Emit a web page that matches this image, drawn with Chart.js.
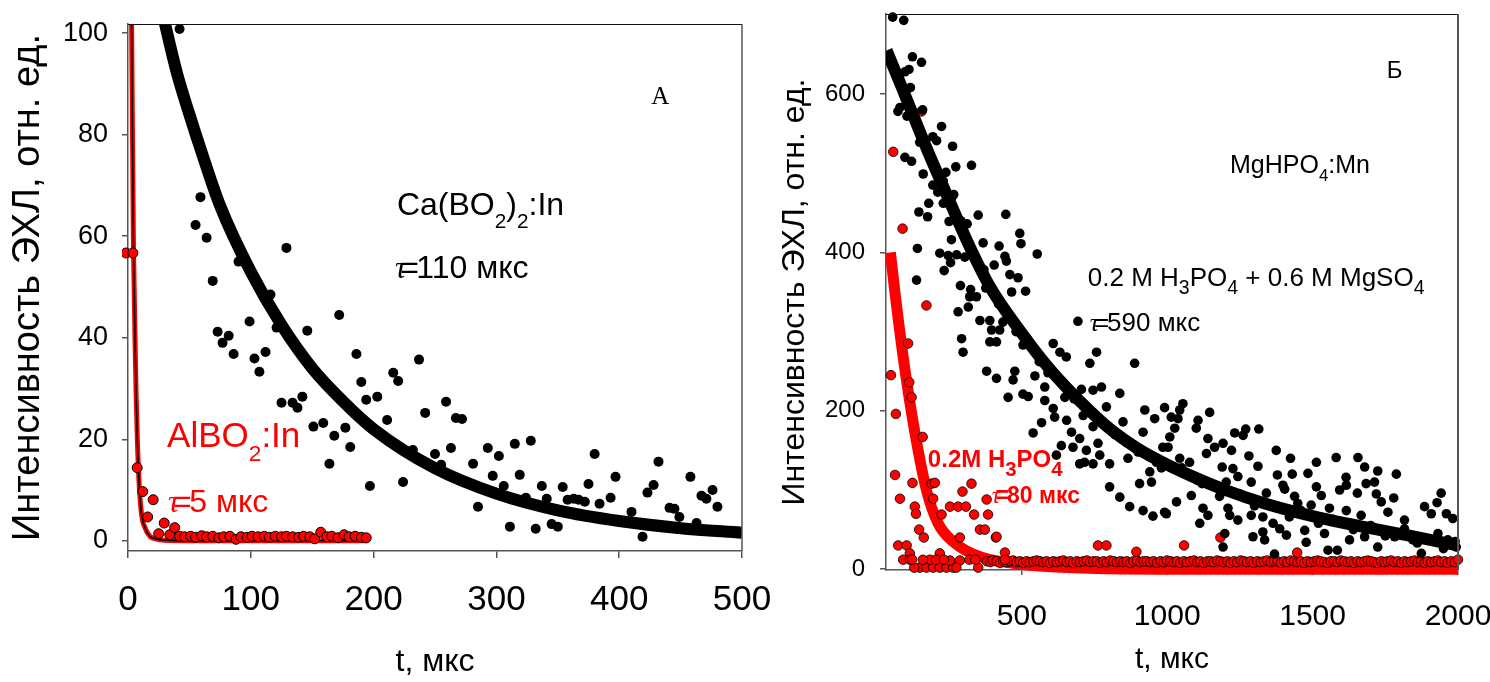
<!DOCTYPE html>
<html>
<head>
<meta charset="utf-8">
<script src="https://cdn.jsdelivr.net/npm/chart.js@4.4.1/dist/chart.umd.min.js"></script>
<style>
html,body{margin:0;padding:0;background:#fff;overflow:hidden;}
#wrapA{position:absolute;left:0;top:0;width:770px;height:682px;}
#wrapB{position:absolute;left:770px;top:0;width:740px;height:682px;}
</style>
</head>
<body>
<div id="wrapA"><canvas id="chartA" width="770" height="682"></canvas></div>
<div id="wrapB"><canvas id="chartB" width="740" height="682"></canvas></div>
<script>
// ---- panel A : Ca(BO2)2:In and AlBO2:In ----
var xTicksA=[0,100,200,300,400,500];
var yTicksA=[0,20,40,60,80,100];

var tBlackA=[42,59,55,64,69,90,99,116,129,172,146,73,82,121,77,86,103,107,112,125,
 134,138,142,151,159,168,177,164,181,186,190,194,197,237,216,220,203,259,242,211,
 267,272,224,232,250,255,263,281,285,293,302,297,306,311,315,319,328,324,332,337,
 341,345,350,354,358,363,367,372,375,380,384,393,397,410,419,423,428,432,441,445,
 449,458,463,467,471,476,480];
var vBlackA=[100.8,67.7,62.2,59.7,51.2,55,43.2,48.5,57.7,44.5,41.4,41.2,40.4,42,39,36.8,35.9,33.3,37.2,27.2,
 27.2,26.2,28.4,22.5,23.2,20.7,22.3,15.2,18.5,36.8,31.3,27.8,10.8,35.7,33.1,31.5,28.4,27.4,25.2,23.8,
 24.2,24,11.6,17.9,17.1,15,18.3,15.2,6.7,18.3,16.7,12.8,10.8,2.8,19.1,13,19.7,8.5,2.4,10.8,
 8.3,3.3,2.8,10.6,8.1,8.3,8.1,7.7,11.2,17.1,7.3,8.5,12.6,5.7,0.8,9.5,11,15.6,6.5,6.3,
 4.7,12.6,3.5,8.9,8.3,10,6.7];

var tRedA=[-1.6,4,7.5,12,16,20.5,25,29.5,34,38,42,46,51,55,60,64,69,74,78,83,
 88,92,97,101,106,111,115,120,125,129,134,139,143,148,152,157,162,166,171,176,
 180,185,190,194];
var vRedA=[56.7,56.7,14.4,9.7,4.7,8.1,1.4,3.5,1.2,2.6,0.9,0.8,0.9,0.7,1.0,0.8,0.9,0.6,0.8,0.9,
 0.3,0.8,0.7,0.9,0.8,0.9,0.7,0.9,0.8,0.9,0.8,0.7,0.9,0.8,0.4,1.7,0.8,0.9,0.6,1.2,
 0.8,0.9,0.7,0.6];

// fitted decay curves
var tFitBlackA=[28,40,50,60,75,100,125,150,175,200,250,300,350,400,450,500];
var vFitBlackA=[104,92,84,76.5,66,53,42.5,34,27.5,22,14.3,9.3,6,3.9,2.5,1.6];
var tFitRedA=[2,3,4,4.5,5,5.7,6.5,7.6,9,11,14,18,22,26,35,60,100,150,195];
var vFitRedA=[130,100,70,57,50,40,30,20,11.5,5.3,2.5,0.85,0.45,0.2,0.05,0,0,0,0];

// ---- panel B : MgHPO4:Mn ----
var xTicksB=[500,1000,1500,2000];
var yTicksB=[0,200,400,600];

var tBlackB=[56,94,124,155,112,98,117,81,74,105,159,224,194,207,262,149,98,121,273,327,
 161,239,194,211,266,180,146,176,230,350,445,250,312,493,258,367,422,497,141,218,
 247,276,304,442,553,447,255,405,233,459,487,138,289,324,376,465,513,344,
 321,281,316,356,390,435,693,396,424,293,390,413,504,608,298,631,653,757,888,734,
 379,476,413,470,545,579,504,453,522,579,608,648,705,745,774,837,791,568,613,654,
 711,745,848,923,957,991,917,539,671,699,636,676,722,762,985,619,716,768,802,745,
 699,865,963,802,837,871,917,905,946,951,991,940,
 1054,1043,1014,1037,1026,1009,1003,1146,1106,1100,1140,1232,1270,1315,1261,1163,1192,1221,1135,1043,
 1077,1281,1312,1189,1226,1375,1424,1513,1581,1656,1679,1724,1788,1379,1430,1484,1243,1106,1203,1289,
 1398,1615,1684,1713,1513,1616,1083,1032,997,1341,1404,1438,1530,1593,1654,1719,1779,1942,1928,1885,
 1960,1982,1908,1816,1759,1736,1667,1558,1616,1495,1449,1123,1140,1112,1209,1243,1215,1289,1329,1364,
 1387,1473,1541,1198,1192,1295,1329,1335,1410,1478,1553,1585,1369,1627,1679,1724,1782,1816,1845,1874,
 1931,1965,1994,1736,
 1050,1120,1180,1250,1300,1350,1420,1460,1520,1570,1640,1700,1750,1800,1860,1900,1950,1990,
 200,230,260,290,340,370,420,450,480,520,560,590,640,680,720,760,820,860,900,940,980];
var vBlackB=[697,693,647,640,631,628,608,583,578,572,580,559,546,541,534,539,520,515,508,510,
 499,501,485,476,473,462,451,445,462,447,448,439,436,424,416,412,408,411,405,399,
 396,397,394,395,398,389,387,384,377,372,368,365,358,353,355,350,351,344,
 344,325,331,314,314,312,313,302,302,291,287,287,283,285,274,274,268,274,260,260,
 250,250,241,239,244,230,221,217,218,213,203,217,227,226,230,222,205,185,192,188,
 194,180,186,201,190,204,173,172,173,165,156,154,150,159,154,144,135,144,133,133,
 133,140,135,104,91,79,74,108,110,67,72,123,
 209,201,192,190,178,167,154,198,188,178,165,172,177,177,169,154,159,150,146,140,
 135,143,130,129,127,150,140,135,141,141,129,124,120,119,120,121,117,112,110,110,
 106,116,108,110,104,106,93,85,70,96,101,92,93,100,96,95,90,96,84,79,
 70,64,70,62,72,85,68,77,74,81,83,77,68,58,77,62,68,68,66,58,
 51,49,45,45,28,41,47,37,43,34,24,24,19,37,41,28,41,51,37,20,
 45,37,28,49,
 128,108,92,95,80,82,66,74,58,63,50,55,42,44,33,38,26,35,
 505,490,470,440,395,378,335,318,300,290,262,248,235,215,205,190,170,160,148,142,128];

var tRedB=[58,90,155,172,109,50,113,67,121,159,64,124,81,190,201,195,132,136,224,253,
 281,308,296,327,336,379,384,356,373,411,147,163,287,75,104,115,442,762,791,894,
 92,149,172,195,218,241,264,184,218,253,287,350,442,413,1058,1183,1447,130,160,205,
 232,275,320,340,115,123];
var vRedB=[527,430,578,333,285,245,236,196,217,167,119,109,89,108,109,89,79,70,69,79,
 79,79,98,108,69,88,69,50,50,40,50,40,40,30,30,20,21,30,30,22,
 12,2,2,2,2,2,2,12,20,11,11,2,12,41,30,40,21,2,12,12,
 12,2,12,12,12,12];

// dense row of red points lying on the baseline
var tBandB=[380,392,401,413,425,436,447,459,470,482,493,505,516,528,540,551,562,574,585,597,
 608,620,631,643,655,666,677,689,700,712,724,735,746,758,770,781,792,804,815,827,
 839,850,861,873,884,896,908,919,930,942,953,965,977,988,999,1011,1023,1034,1045,1057,
 1068,1080,1092,1103,1114,1126,1138,1149,1160,1172,1183,1195,1207,1218,1229,1241,1253,1264,1275,1287,
 1298,1310,1322,1333,1344,1356,1367,1379,1391,1402,1413,1425,1437,1448,1459,1471,1482,1494,1506,1517,
 1528,1540,1552,1563,1574,1586,1597,1609,1621,1632,1643,1655,1666,1678,1690,1701,1712,1724,1736,1747,
 1758,1770,1781,1793,1805,1816,1827,1839,1851,1862,1873,1885,1896,1908,1920,1931,1942,1954,1965,1977,
 1989,2000];
var vBandB=[10,9,11,10,8,10,9,10,11,9,10,8,10,9,10,11,10,9,10,8,
 10,9,10,11,9,10,8,10,9,10,11,9,10,10,8,10,9,11,10,9,
 10,9,10,8,10,11,9,10,10,9,10,8,10,9,11,10,9,10,8,10,
 9,10,11,9,10,8,10,10,9,11,10,9,10,8,10,9,11,10,9,10,
 8,10,9,10,11,9,10,10,8,10,9,11,10,9,10,8,10,9,10,11,
 10,9,8,10,10,9,11,10,9,10,8,10,9,10,11,10,9,8,10,9,
 10,11,9,10,8,10,9,10,11,9,10,8,10,9,10,11,9,10,8,10,
 9,12];

var tFitBlackB=[35,52,100,180,250,316,390,500,600,700,800,900,1000,1100,1200,1336,1500,1680,1850,2000];
var vFitBlackB=[655,640,597,525,466,411,357,298,251,212,178,152,132,115,100,83,67,53,41,30];
var tFitRedB=[48,63,92,127,172,212,270,356,470,600,800,1000,1500,2000];
var vFitRedB=[400,352,268,184,100,58,33,15.8,7.5,3,0.5,0,0,0];

Chart.defaults.font.family='"Liberation Sans", Arial, sans-serif';
Chart.defaults.color='#000';

function pts(xs,ys){ return xs.map(function(x,i){ return {x:x,y:ys[i]}; }); }

// text labels inside the plots
var notesA=[
 {t:426,v:86,size:25,parts:[{s:'А',serif:true}]},
 {t:219,v:64.2,size:32,parts:[{s:'Ca(BO'},{s:'2',sub:true},{s:')'},{s:'2',sub:true},{s:':In'}]},
 {t:217.5,v:51.8,size:32,parts:[{s:'τ',tau:true},{s:'=',dx:-0.2},{s:'110 мкс',dx:-0.08}]},
 {t:31.8,v:18.5,size:35,color:'#ff0000',parts:[{s:'AlBO'},{s:'2',sub:true},{s:':In'}]},
 {t:32.6,v:5.7,size:32,color:'#ff0000',parts:[{s:'τ',tau:true},{s:'=',dx:-0.2},{s:'5 мкс',dx:-0.08}]}
];
var notesB=[
 {t:1755,v:620,size:24,parts:[{s:'Б'}]},
 {t:1216,v:500,size:25,subScale:0.67,subShift:0.3,parts:[{s:'MgHPO'},{s:'4',sub:true},{s:':Mn'}]},
 {t:727,v:357.6,size:26,subScale:0.75,subShift:0.3,parts:[{s:'0.2 M H'},{s:'3',sub:true},{s:'PO'},{s:'4',sub:true},{s:' + 0.6 M MgSO'},{s:'4',sub:true}]},
 {t:734,v:300.8,size:26,parts:[{s:'τ',tau:true},{s:'=',dx:-0.2},{s:'590 мкс',dx:-0.08}]},
 {t:177,v:129,size:24,bold:true,color:'#ff0000',subScale:0.85,subShift:0.36,parts:[{s:'0.2M H'},{s:'3',sub:true},{s:'PO'},{s:'4',sub:true}]},
 {t:397,v:83.6,size:23,bold:true,color:'#ff0000',parts:[{s:'τ',tau:true},{s:'=',dx:-0.2},{s:'80 мкс',dx:-0.08}]}
];

function drawNote(ctx,x,y,n){
  var cx=x;
  ctx.fillStyle=n.color||'#000';
  ctx.textBaseline='alphabetic';
  ctx.textAlign='left';
  n.parts.forEach(function(p){
    var size=p.sub ? n.size*(n.subScale||0.65) : n.size;
    var f=(n.bold?'bold ':'')+size+'px "Liberation Sans", Arial, sans-serif';
    if(p.tau) f='italic '+size+'px "Liberation Serif", serif';
    if(p.serif) f=size+'px "Liberation Serif", serif';
    ctx.font=f;
    cx+=(p.dx||0)*n.size;
    ctx.fillText(p.s,cx,y+(p.sub ? n.size*(n.subShift||0.4) : 0));
    cx+=ctx.measureText(p.s).width;
  });
}

function framePlugin(notes,rightW){
  return {
    id:'frame',
    afterDatasetsDraw:function(chart){
      var ctx=chart.ctx, a=chart.chartArea, xs=chart.scales.x, ys=chart.scales.y;
      ctx.save();
      ctx.strokeStyle='#111'; ctx.lineWidth=1.2;
      ctx.beginPath(); ctx.moveTo(a.left,a.top+0.5); ctx.lineTo(a.right,a.top+0.5); ctx.stroke();
      ctx.strokeStyle='#555'; ctx.lineWidth=rightW;
      ctx.beginPath(); ctx.moveTo(a.right,a.top); ctx.lineTo(a.right,a.bottom); ctx.stroke();
      notes.forEach(function(n){ drawNote(ctx,xs.getPixelForValue(n.t),ys.getPixelForValue(n.v),n); });
      ctx.restore();
    }
  };
}

function axis(o){
  return {
    type:'linear', min:o.min, max:o.max,
    afterBuildTicks:function(s){ s.ticks=o.ticks.map(function(v){ return {value:v}; }); },
    afterFit:function(s){
      if(o.w) s.width=o.w;
      if(o.h) s.height=o.h;
      // keep the plot box where layout.padding puts it
      s.paddingLeft=0; s.paddingRight=0; s.paddingTop=0; s.paddingBottom=0;
    },
    border:{display:true,color:'#555',width:1.5},
    grid:{drawOnChartArea:false,drawTicks:true,tickLength:o.tl,color:'#555',lineWidth:1.5},
    ticks:{font:{size:o.fs},color:'#000',padding:o.pad,maxRotation:0,autoSkip:false,
      callback:function(v){ return String(v); }},
    title:{display:true,text:o.title,color:'#000',font:{size:o.ts},padding:o.tpad}
  };
}

new Chart(document.getElementById('chartA'),{
  type:'scatter',
  data:{datasets:[
    {data:pts(tFitBlackA,vFitBlackA),showLine:true,borderColor:'#000',borderWidth:12,pointRadius:0,cubicInterpolationMode:'monotone',order:1},
    {data:pts(tBlackA,vBlackA),pointRadius:5,pointBackgroundColor:'#000',pointBorderWidth:0,clip:6,order:2},
    {data:pts(tRedA,vRedA),pointRadius:5,pointBackgroundColor:'#ff0000',pointBorderColor:'#000',pointBorderWidth:1,clip:6,order:3},
    {data:pts(tFitRedA,vFitRedA),showLine:true,borderColor:'#000',borderWidth:1.5,pointRadius:0,cubicInterpolationMode:'monotone',order:4},
    {data:pts(tFitRedA,vFitRedA),showLine:true,borderColor:'#ff0000',borderWidth:5,pointRadius:0,cubicInterpolationMode:'monotone',order:5}
  ]},
  options:{
    responsive:false,animation:false,events:[],devicePixelRatio:1,
    layout:{padding:{top:24,right:28,left:0,bottom:0}},
    plugins:{legend:{display:false},tooltip:{enabled:false}},
    scales:{
      x:axis({min:0,max:500,ticks:xTicksA,h:131,tl:7,fs:35,pad:21,title:'t, мкс',ts:32,tpad:{top:0,bottom:1}}),
      y:axis({min:-2,max:101.8,ticks:yTicksA,w:128,tl:6,fs:27,pad:14,title:'Интенсивность ЭХЛ, отн. ед.',ts:38,tpad:{top:6,bottom:0}})
    }
  },
  plugins:[framePlugin(notesA,1.5)]
});

new Chart(document.getElementById('chartB'),{
  type:'scatter',
  data:{datasets:[
    {data:pts(tFitBlackB,vFitBlackB),showLine:true,borderColor:'#000',borderWidth:12,pointRadius:0,cubicInterpolationMode:'monotone',order:1},
    {data:pts(tBlackB,vBlackB),pointRadius:4.8,pointBackgroundColor:'#000',pointBorderWidth:0,clip:6,order:2},
    {data:pts(tRedB,vRedB),pointRadius:4.8,pointBackgroundColor:'#ff0000',pointBorderColor:'#000',pointBorderWidth:0.8,clip:6,order:3},
    {data:pts(tBandB,vBandB),pointRadius:4.8,pointBackgroundColor:'#ff0000',pointBorderColor:'#000',pointBorderWidth:0.8,clip:6,order:4},
    {data:pts(tFitRedB,vFitRedB),showLine:true,borderColor:'#ff0000',borderWidth:11,pointRadius:0,cubicInterpolationMode:'monotone',
      clip:{left:0,top:0,right:0,bottom:8},order:5}
  ]},
  options:{
    responsive:false,animation:false,events:[],devicePixelRatio:1,
    layout:{padding:{top:14,right:52,left:0,bottom:0}},
    plugins:{legend:{display:false},tooltip:{enabled:false}},
    scales:{
      x:axis({min:33,max:2000,ticks:xTicksB,h:112,tl:5,fs:30,pad:24,title:'t, мкс',ts:30,tpad:{top:0,bottom:4}}),
      y:axis({min:-1,max:701,ticks:yTicksB,w:116,tl:6,fs:24,pad:15,title:'Интенсивность ЭХЛ, отн. ед.',ts:32,tpad:{top:6,bottom:0}})
    }
  },
  plugins:[framePlugin(notesB,2)]
});
</script>
</body>
</html>
